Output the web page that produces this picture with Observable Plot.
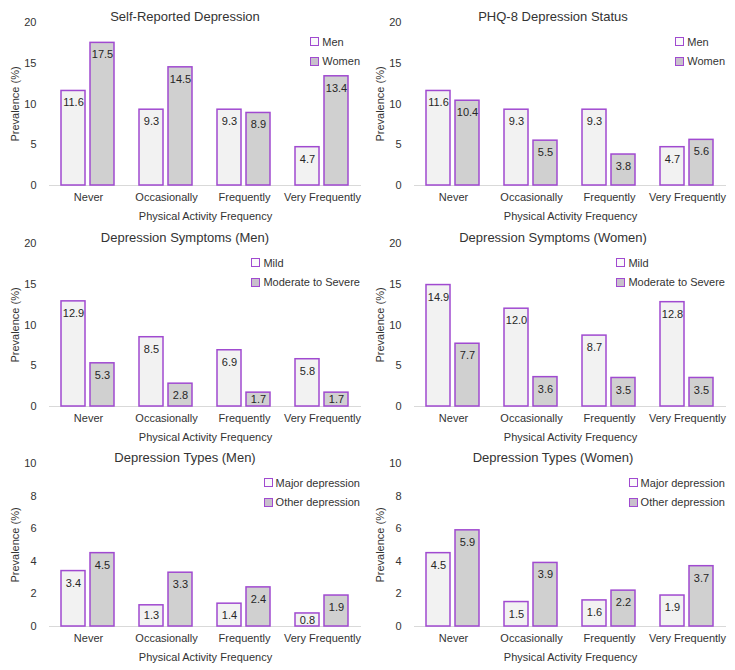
<!DOCTYPE html>
<html>
<head>
<meta charset="utf-8">
<script src="https://cdn.jsdelivr.net/npm/d3@7"></script>
<script src="https://cdn.jsdelivr.net/npm/@observablehq/plot@0.6"></script>
<style>
  html, body { margin: 0; padding: 0; background: #fff; }
  #root { position: relative; width: 735px; height: 670px; font-family: "Liberation Sans", Arial, sans-serif; color: #333; }
  .panel { position: absolute; width: 368px; height: 222px; }
  .panel svg { position: absolute; left: 0; top: 0; }
  .title { position: absolute; top: 8px; left: 0; text-align: center; font-size: 13px; line-height: 17px; color: #333; white-space: nowrap; }
  .legend { position: absolute; right: 8px; top: 32px; font-size: 11px; color: #333; }
  .legend .item { display: flex; align-items: center; height: 19.5px; white-space: nowrap; }
  .legend .sw { display: inline-block; box-sizing: border-box; width: 9px; height: 9px; border: 1.5px solid #a04ad0; margin-right: 3px; }
</style>
</head>
<body>
<div id="root"></div>
<script>
const categories = ["Never", "Occasionally", "Frequently", "Very Frequently"];
const yTicks20 = [0, 5, 10, 15, 20];
const yTicks10 = [0, 2, 4, 6, 8, 10];

const selfMen = [11.6, 9.3, 9.3, 4.7];
const selfWomen = [17.5, 14.5, 8.9, 13.4];
const phqMen = [11.6, 9.3, 9.3, 4.7];
const phqWomen = [10.4, 5.5, 3.8, 5.6];
const sympMenMild = [12.9, 8.5, 6.9, 5.8];
const sympMenModSev = [5.3, 2.8, 1.7, 1.7];
const sympWomenMild = [14.9, 12.0, 8.7, 12.8];
const sympWomenModSev = [7.7, 3.6, 3.5, 3.5];
const typesMenMajor = [3.4, 1.3, 1.4, 0.8];
const typesMenOther = [4.5, 3.3, 2.4, 1.9];
const typesWomenMajor = [4.5, 1.5, 1.6, 1.9];
const typesWomenOther = [5.9, 3.9, 2.2, 3.7];

const titles = ["Self-Reported Depression", "PHQ-8 Depression Status", "Depression Symptoms (Men)", "Depression Symptoms (Women)", "Depression Types (Men)", "Depression Types (Women)"];
const seriesNames = [["Men", "Women"], ["Men", "Women"], ["Mild", "Moderate to Severe"], ["Mild", "Moderate to Severe"], ["Major depression", "Other depression"], ["Major depression", "Other depression"]];
const seriesValues = [[selfMen, selfWomen], [phqMen, phqWomen], [sympMenMild, sympMenModSev], [sympWomenMild, sympWomenModSev], [typesMenMajor, typesMenOther], [typesWomenMajor, typesWomenOther]];
const yMax = [20, 20, 20, 20, 10, 10];
const yTickSets = [yTicks20, yTicks20, yTicks20, yTicks20, yTicks10, yTicks10];

const fillA = "#f2f2f2", fillB = "#d0d0d0", strokeC = "#a04ad0";
const root = document.getElementById("root");
const lefts = [0, 365];
const tops = [0, 221, 441];
const titleCenters = [185, 188];
const W = 368, H = 222, MT = 22, MB = 37;

titles.forEach((title, i) => {
  const col = i % 2, row = Math.floor(i / 2);
  const names = seriesNames[i];
  const data = [];
  categories.forEach((c, k) => {
    names.forEach((s, j) => data.push({category: c, series: s, value: seriesValues[i][j][k]}));
  });
  // label sits 12px below the bar top, or at the bar's middle when the bar is short
  const unitsPerPx = yMax[i] / (H - MT - MB);
  const labelY = d => Math.max(d.value - 12 * unitsPerPx, d.value / 2);

  const panel = document.createElement("div");
  panel.className = "panel";
  panel.style.left = lefts[col] + "px";
  panel.style.top = tops[row] + "px";

  const chart = Plot.plot({
    width: W,
    height: H,
    marginTop: MT,
    marginBottom: MB,
    marginLeft: 47,
    marginRight: 6,
    style: {fontFamily: "Liberation Sans, Arial, sans-serif", fontSize: "11px", color: "#333", background: "transparent"},
    fx: {domain: categories, padding: 0, axis: "bottom", tickSize: 0, tickPadding: 8, label: "Physical Activity Frequency", labelAnchor: "center", labelOffset: 34},
    x: {domain: names, paddingInner: 0.1667, paddingOuter: 0.396, axis: null},
    y: {domain: [0, yMax[i]], ticks: yTickSets[i], tickSize: 0, tickPadding: 13, label: "Prevalence (%)", labelAnchor: "center", labelOffset: 38, labelArrow: "none"},
    color: {domain: names, range: [fillA, fillB]},
    marks: [
      Plot.ruleY([0], {stroke: "#d9d9d9", strokeWidth: 1}),
      Plot.barY(data, {fx: "category", x: "series", y: "value", fill: "series", stroke: strokeC, strokeWidth: 1.5}),
      Plot.text(data, {fx: "category", x: "series", y: labelY, text: d => d.value.toFixed(1), fill: "#262626", fontSize: 11})
    ]
  });
  panel.appendChild(chart);

  const t = document.createElement("div");
  t.className = "title";
  t.style.width = (2 * titleCenters[col]) + "px";
  t.textContent = title;
  panel.appendChild(t);

  const lg = document.createElement("div");
  lg.className = "legend";
  names.forEach((s, j) => {
    const it = document.createElement("div");
    it.className = "item";
    const sw = document.createElement("span");
    sw.className = "sw";
    sw.style.background = j === 0 ? "#fafafa" : "#c8c0cc";
    it.appendChild(sw);
    it.appendChild(document.createTextNode(s));
    lg.appendChild(it);
  });
  panel.appendChild(lg);
  root.appendChild(panel);
});
</script>
</body>
</html>
